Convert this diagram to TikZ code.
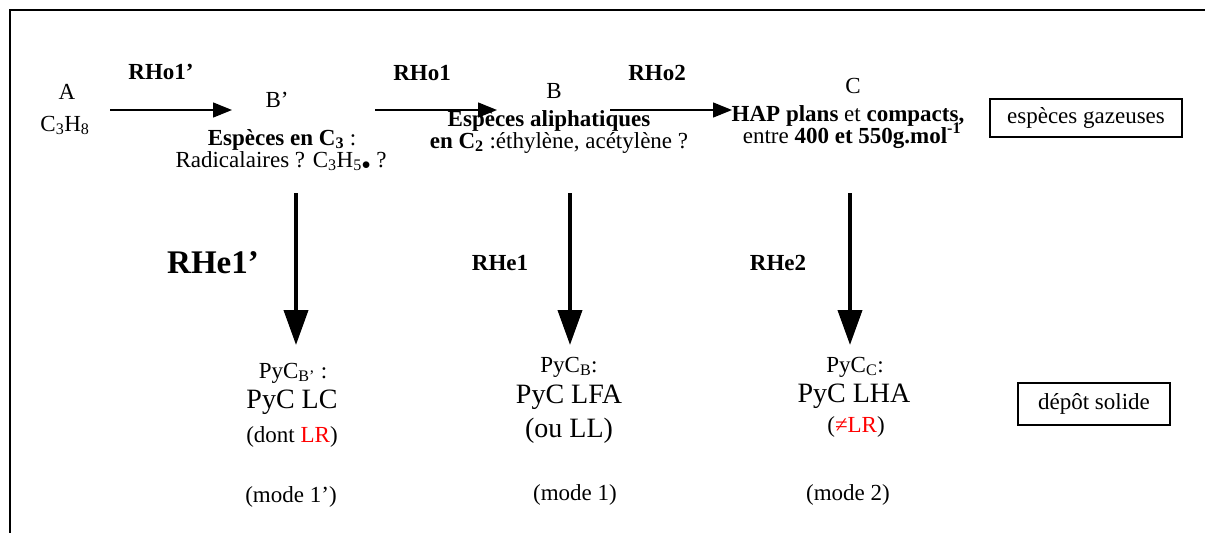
\documentclass[tikz,border=0pt]{standalone}
\usepackage{fontspec}
\setmainfont{Liberation Serif}
\usepackage{xcolor}
\usetikzlibrary{arrows.meta}

\begin{document}
\begin{tikzpicture}[x=1pt,y=-1pt,
    txt/.style={anchor=base,inner sep=0pt,font=\fontsize{23}{27}\selectfont},
    big/.style={anchor=base,inner sep=0pt,font=\fontsize{28}{33}\selectfont},
    lab/.style={anchor=base,inner sep=0pt,font=\fontsize{23}{27}\selectfont\bfseries},
    legend/.style={draw,line width=1.5pt,inner sep=0pt,font=\fontsize{23}{27}\selectfont},
    hflow/.style={line width=1.4pt,-{Triangle[length=19pt,width=15pt]}},
    vflow/.style={line width=4pt,-{Triangle[length=35pt,width=24pt]}}]
    \useasboundingbox (0,0) rectangle (1205,533);
    % \draw[step=50pt,gray!30] (0,0) grid (1205,533);
    \draw[line width=2pt] (1205,9.5) -- (10,9.5) -- (10,533);

    % phase gazeuse
    \node[txt] (A) at (67,99) {A};
    \node[txt] (A1) at (65,131) {C\textsubscript{3}H\textsubscript{8}};

    \node[lab] (RHo1p) at (161,79) {RHo1'};
    \node[txt] (Bp) at (277,107) {B'};
    \node[txt] (Bp1) at (282,145) {\textbf{Espèces en C\textsubscript{3}} :};
    \node[txt] (Bp2) at (281,167) {Radicalaires ? C\textsubscript{3}H\textsubscript{5}{\fontsize{17}{20}\selectfont\raisebox{-2pt}{$\bullet$}} ?};

    \node[lab] (RHo1) at (422,80) {RHo1};
    \node[txt] (B) at (554,98) {B};
    \node[txt] (B1) at (549,126) {\textbf{Espèces aliphatiques}};
    \node[txt] (B2) at (559,148) {\textbf{en C\textsubscript{2}} :éthylène, acétylène ?};

    \node[lab] (RHo2) at (657,80) {RHo2};
    \node[txt] (C) at (853,93) {C};
    \node[txt] (C1) at (848,121) {\textbf{HAP plans} et \textbf{compacts,}};
    \node[txt] (C2) at (852,143) {entre \textbf{400 et 550g.mol\textsuperscript{-1}}};

    \coordinate (h1s) at (110,110);
    \coordinate (h1e) at (232,110);
    \coordinate (h2s) at (375,110);
    \coordinate (h2e) at (497,110);
    \coordinate (h3s) at (610,110);
    \coordinate (h3e) at (732,110);
    \draw[hflow] (h1s) -- (h1e);
    \draw[hflow] (h2s) -- (h2e);
    \draw[hflow] (h3s) -- (h3e);

    % depot solide
    \coordinate (v1s) at (296,193);
    \coordinate (v1e) at (296,345);
    \coordinate (v2s) at (570,193);
    \coordinate (v2e) at (570,345);
    \coordinate (v3s) at (850,193);
    \coordinate (v3e) at (850,345);
    \draw[vflow] (v1s) -- (v1e);
    \draw[vflow] (v2s) -- (v2e);
    \draw[vflow] (v3s) -- (v3e);

    \node[lab,font=\fontsize{33}{38}\selectfont\bfseries] (RHe1p) at (213,273) {RHe1'};
    \node[lab] (RHe1) at (500,270) {RHe1};
    \node[lab] (RHe2) at (778,270) {RHe2};

    \node[txt] (PyBp) at (293,378) {PyC\textsubscript{B'} :};
    \node[big] (LC) at (292,408) {PyC LC};
    \node[txt] (LC1) at (292,442) {(dont \textcolor{red}{LR})};
    \node[txt] (mode1p) at (291,502) {(mode 1')};

    \node[txt] (PyB) at (569,372) {PyC\textsubscript{B}:};
    \node[big] (LFA) at (569,403) {PyC LFA};
    \node[big] (LFA1) at (569,437) {(ou LL)};
    \node[txt] (mode1) at (575,500) {(mode 1)};

    \node[txt] (PyC) at (855,372) {PyC\textsubscript{C}:};
    \node[big] (LHA) at (854,402) {PyC LHA};
    \node[txt] (LHA1) at (856,432) {(\textcolor{red}{≠LR})};
    \node[txt] (mode2) at (848,500) {(mode 2)};

    % legende
    \node[legend,minimum width=192pt,minimum height=38pt] (gaz) at (1086,118) {espèces gazeuses};
    \node[legend,minimum width=152pt,minimum height=42pt] (sol) at (1094,404) {dépôt solide};
\end{tikzpicture}
\end{document}
